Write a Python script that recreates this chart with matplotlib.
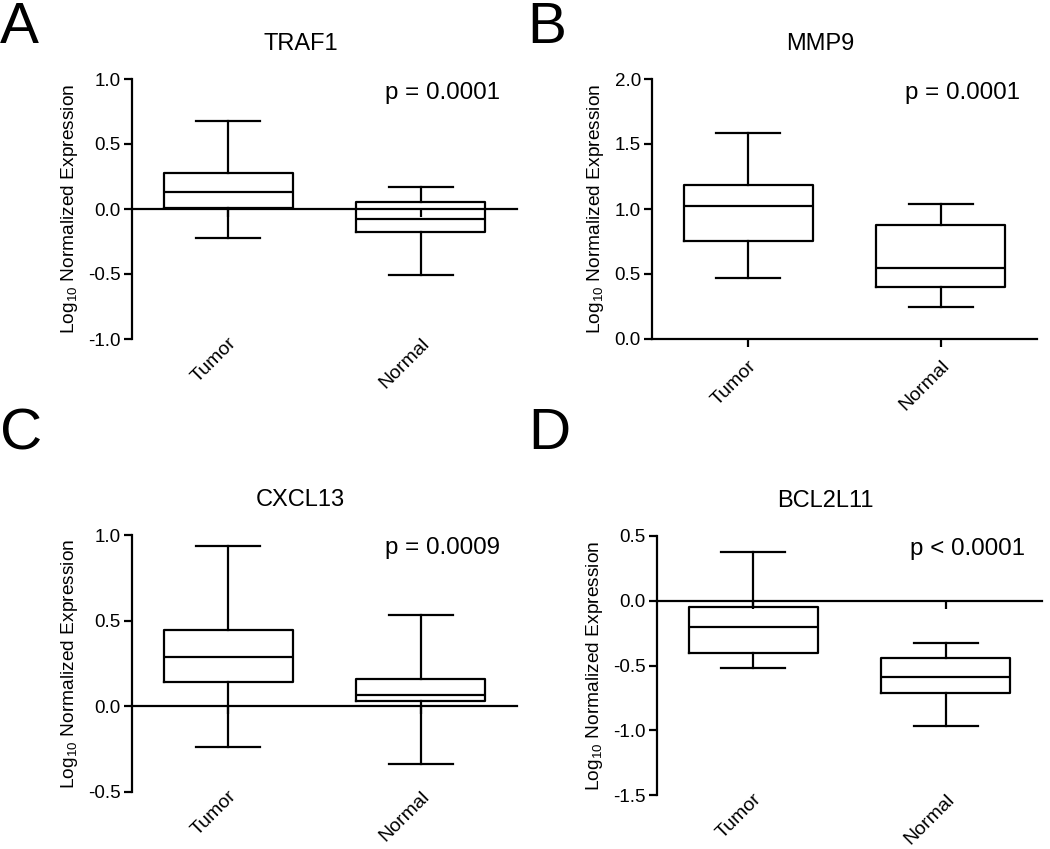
import matplotlib
matplotlib.use("Agg")
import matplotlib.pyplot as plt

plt.rcParams['font.family'] = ['Liberation Sans', 'DejaVu Sans']
plt.rcParams['mathtext.fontset'] = 'custom'
plt.rcParams['mathtext.rm'] = 'Liberation Sans'
plt.rcParams['mathtext.it'] = 'Liberation Sans:italic'
plt.rcParams['mathtext.default'] = 'regular'

# ---- data ----
groups = ["Tumor", "Normal"]
genes = ["TRAF1", "MMP9", "CXCL13", "BCL2L11"]
panel_letters = ["A", "B", "C", "D"]
p_texts = ["p = 0.0001", "p = 0.0001", "p = 0.0009", "p < 0.0001"]

# per gene: [Tumor, Normal] values for whisker low, Q1, median, Q3, whisker high
traf1_low = [-0.224, -0.504]
traf1_q1 = [0.010, -0.175]
traf1_med = [0.129, -0.075]
traf1_q3 = [0.280, 0.054]
traf1_high = [0.676, 0.170]

mmp9_low = [0.472, 0.249]
mmp9_q1 = [0.752, 0.403]
mmp9_med = [1.022, 0.547]
mmp9_q3 = [1.184, 0.878]
mmp9_high = [1.582, 1.040]

cxcl13_low = [-0.239, -0.334]
cxcl13_q1 = [0.142, 0.031]
cxcl13_med = [0.289, 0.068]
cxcl13_q3 = [0.443, 0.161]
cxcl13_high = [0.936, 0.532]

bcl2l11_low = [-0.518, -0.969]
bcl2l11_q1 = [-0.405, -0.715]
bcl2l11_med = [-0.200, -0.592]
bcl2l11_q3 = [-0.051, -0.444]
bcl2l11_high = [0.377, -0.326]

ylims = [(-1.0, 1.0), (0.0, 2.0), (-0.5, 1.0), (-1.5, 0.5)]
yticks = [[-1.0, -0.5, 0.0, 0.5, 1.0],
          [0.0, 0.5, 1.0, 1.5, 2.0],
          [-0.5, 0.0, 0.5, 1.0],
          [-1.5, -1.0, -0.5, 0.0, 0.5]]

data = [
    (traf1_low, traf1_q1, traf1_med, traf1_q3, traf1_high),
    (mmp9_low, mmp9_q1, mmp9_med, mmp9_q3, mmp9_high),
    (cxcl13_low, cxcl13_q1, cxcl13_med, cxcl13_q3, cxcl13_high),
    (bcl2l11_low, bcl2l11_q1, bcl2l11_med, bcl2l11_q3, bcl2l11_high),
]

# ---- layout (figure pixels: left, top, right, bottom) ----
W, H = 1050, 849
boxes_px = [(132, 79, 517, 339), (652, 79, 1037, 339),
            (132, 535, 517, 792), (657, 536, 1042, 795)]
letter_pos = [(0, 43), (527, 43), (0, 449), (528, 449)]

fig = plt.figure(figsize=(W / 100, H / 100), dpi=100)
LW = 1.6

for i in range(4):
    l, t, r, b = boxes_px[i]
    ax = fig.add_axes([l / W, 1 - b / H, (r - l) / W, (b - t) / H])
    low, q1, med, q3, high = data[i]
    stats = []
    for j, g in enumerate(groups):
        stats.append(dict(label=g, whislo=low[j], q1=q1[j], med=med[j],
                          q3=q3[j], whishi=high[j], fliers=[]))
    ax.bxp(stats, positions=[0, 1], widths=0.67, capwidths=0.333,
           showfliers=False, patch_artist=False,
           boxprops=dict(color='black', linewidth=LW),
           whiskerprops=dict(color='black', linewidth=LW),
           capprops=dict(color='black', linewidth=LW),
           medianprops=dict(color='black', linewidth=LW))
    ax.set_xlim(-0.5, 1.5)
    ax.set_ylim(*ylims[i])
    ax.set_yticks(yticks[i])
    ax.set_yticklabels([f"{v:.1f}" for v in yticks[i]])
    ax.spines['top'].set_visible(False)
    ax.spines['right'].set_visible(False)
    ax.spines['left'].set_linewidth(LW)
    ax.spines['bottom'].set_linewidth(LW)
    ax.spines['bottom'].set_position(('data', 0))
    ax.tick_params(axis='y', length=6, width=LW, labelsize=13.5, pad=2)
    ax.tick_params(axis='x', length=6, width=LW, labelbottom=False,
                   direction='out')
    ax.set_xticks([0, 1])

    sec = ax.secondary_xaxis('bottom')
    sec.set_xticks([0, 1])
    sec.set_xticklabels(groups, rotation=45, ha='right',
                        rotation_mode='anchor', fontsize=14)
    sec.spines['bottom'].set_visible(False)
    pad = 13 if ylims[i][0] == 0 else -3
    sec.tick_params(axis='x', length=0, pad=pad)

    ax.set_ylabel("Log$_{10}$ Normalized Expression", fontsize=13.8, labelpad=6)
    ax.set_title(genes[i], fontsize=17, x=0.438, pad=21)
    ax.text(0.956, 0.925, p_texts[i], transform=ax.transAxes,
            ha='right', va='baseline', fontsize=17.4)

    lx, ly = letter_pos[i]
    fig.text(lx / W, 1 - ly / H, panel_letters[i], fontsize=42,
             ha='left', va='baseline')

fig.savefig("out.png", dpi=100)
